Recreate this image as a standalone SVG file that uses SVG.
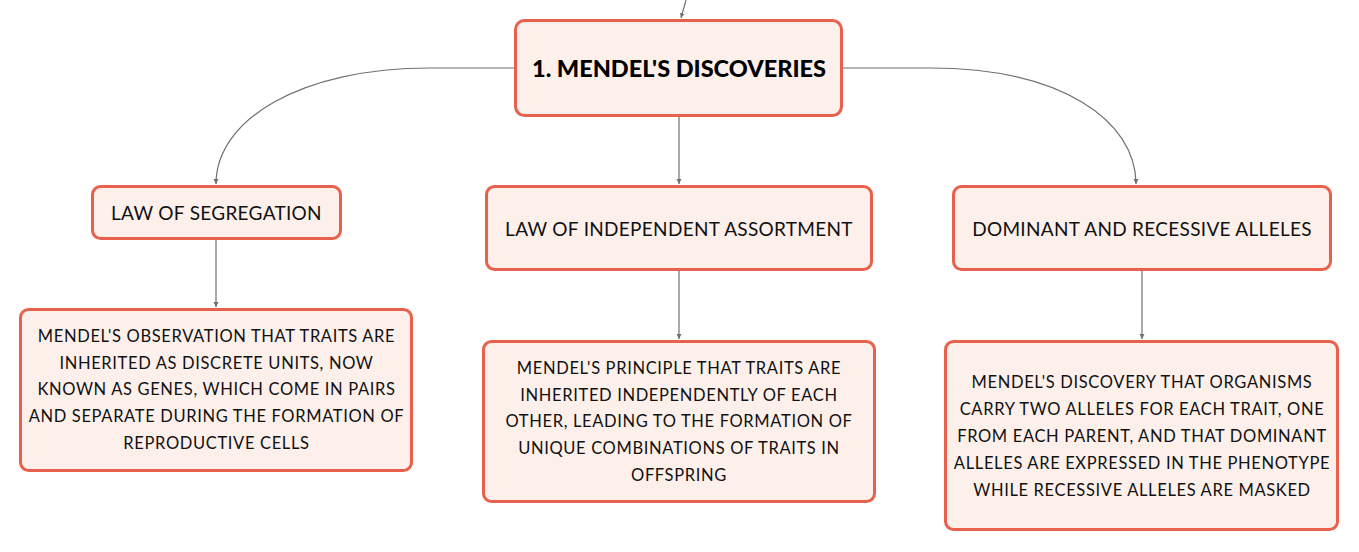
<svg xmlns="http://www.w3.org/2000/svg" width="1359" height="552" viewBox="0 0 1359 552">
<style>
.box{fill:#fdf0eb;stroke:#e8614e;stroke-width:3}
.t{font-family:Lato,"Noto Sans",sans-serif;font-size:16.5px;letter-spacing:0.65px;fill:#111;text-anchor:middle}
.h{font-family:Lato,"Noto Sans",sans-serif;font-size:19px;letter-spacing:0.3px;fill:#111;text-anchor:middle}
.title{font-family:Lato,"Noto Sans",sans-serif;font-size:23.5px;font-weight:900;fill:#000;text-anchor:middle}
.c{fill:none;stroke:#707070;stroke-width:1.2}
</style>
<defs>
<marker id="a" markerWidth="6" markerHeight="6" refX="5" refY="3" orient="auto" markerUnits="userSpaceOnUse">
<path d="M0,0.5 L5,3 L0,5.5 Z" fill="#707070"/>
</marker>
</defs>
<rect width="1359" height="552" fill="#fff"/>
<g id="connectors">
<path class="c" d="M686,0 L681,18" marker-end="url(#a)"/>
<path class="c" d="M515,68 L430,68 C300,68 216,120 216,184" marker-end="url(#a)"/>
<path class="c" d="M842,68 L930,68 C1060,68 1136,120 1136,184" marker-end="url(#a)"/>
<path class="c" d="M679,116 L679,184" marker-end="url(#a)"/>
<path class="c" d="M216,239 L216,307" marker-end="url(#a)"/>
<path class="c" d="M679,270 L679,339" marker-end="url(#a)"/>
<path class="c" d="M1142,270 L1142,339" marker-end="url(#a)"/>
</g>
<g id="main">
<rect class="box" x="515.5" y="20.5" width="326" height="95" rx="9"/>
<text class="title" x="679" y="76.5">1. MENDEL'S DISCOVERIES</text>
</g>
<g id="segregation">
<rect class="box" x="92.5" y="186.5" width="248" height="52" rx="8"/>
<text class="h" x="216.5" y="219.5">LAW OF SEGREGATION</text>
</g>
<g id="independent">
<rect class="box" x="486.5" y="186.5" width="385" height="83" rx="8"/>
<text class="h" x="679" y="235.5">LAW OF INDEPENDENT ASSORTMENT</text>
</g>
<g id="dominant">
<rect class="box" x="953.5" y="186.5" width="377" height="83" rx="8"/>
<text class="h" x="1142" y="235.5">DOMINANT AND RECESSIVE ALLELES</text>
</g>
<g id="segregation-desc">
<rect class="box" x="20.5" y="309.5" width="391" height="161" rx="8"/>
<text class="t" x="216.5" y="342">MENDEL'S OBSERVATION THAT TRAITS ARE</text>
<text class="t" x="216.5" y="369">INHERITED AS DISCRETE UNITS, NOW</text>
<text class="t" x="216.5" y="395">KNOWN AS GENES, WHICH COME IN PAIRS</text>
<text class="t" x="216.5" y="422">AND SEPARATE DURING THE FORMATION OF</text>
<text class="t" x="216.5" y="449">REPRODUCTIVE CELLS</text>
</g>
<g id="independent-desc">
<rect class="box" x="483.5" y="341.5" width="391" height="160" rx="8"/>
<text class="t" x="679" y="374">MENDEL'S PRINCIPLE THAT TRAITS ARE</text>
<text class="t" x="679" y="401">INHERITED INDEPENDENTLY OF EACH</text>
<text class="t" x="679" y="427">OTHER, LEADING TO THE FORMATION OF</text>
<text class="t" x="679" y="454">UNIQUE COMBINATIONS OF TRAITS IN</text>
<text class="t" x="679" y="481">OFFSPRING</text>
</g>
<g id="dominant-desc">
<rect class="box" x="945.5" y="341.5" width="392" height="188" rx="8"/>
<text class="t" x="1142" y="388">MENDEL'S DISCOVERY THAT ORGANISMS</text>
<text class="t" x="1142" y="415">CARRY TWO ALLELES FOR EACH TRAIT, ONE</text>
<text class="t" x="1142" y="442">FROM EACH PARENT, AND THAT DOMINANT</text>
<text class="t" x="1142" y="469">ALLELES ARE EXPRESSED IN THE PHENOTYPE</text>
<text class="t" x="1142" y="496">WHILE RECESSIVE ALLELES ARE MASKED</text>
</g>
</svg>
